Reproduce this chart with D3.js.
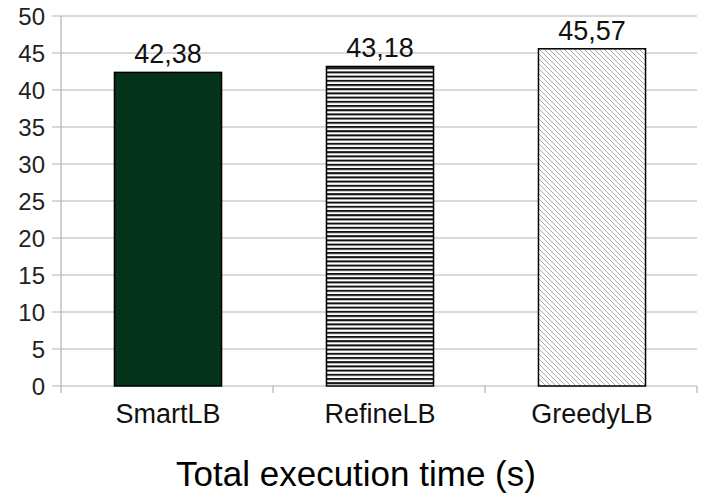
<!DOCTYPE html>
<html><head><meta charset="utf-8">
<script src="https://cdn.jsdelivr.net/npm/d3@7"></script>
<style>body{margin:0;background:#fff}svg{display:block}text{font-family:"Liberation Sans",Arial,sans-serif}</style>
</head><body>
<script>
const categories = ["SmartLB", "RefineLB", "GreedyLB"];
const values = [42.38, 43.18, 45.57];
const valueLabels = ["42,38", "43,18", "45,57"];
const yTicks = [0, 5, 10, 15, 20, 25, 30, 35, 40, 45, 50];
const title = "Total execution time (s)";

const W = 702, H = 500;
const m = {left: 61, right: 5, top: 16, bottom: 114};
const svg = d3.select("body").append("svg").attr("width", W).attr("height", H);
const defs = svg.append("defs");

// patterns
const p1 = defs.append("pattern").attr("id", "hstripe").attr("patternUnits", "userSpaceOnUse")
  .attr("width", 10).attr("height", 4.2);
p1.append("rect").attr("width", 10).attr("height", 4.2).attr("fill", "#fff");
p1.append("rect").attr("y", 0).attr("width", 10).attr("height", 2).attr("fill", "#111");

const p2 = defs.append("pattern").attr("id", "diag").attr("patternUnits", "userSpaceOnUse")
  .attr("width", 5).attr("height", 5);
p2.append("rect").attr("width", 5).attr("height", 5).attr("fill", "#fff");
p2.append("path").attr("d", "M0,0 L5,5 M-1,4 L1,6 M4,-1 L6,1").attr("stroke", "#aaa").attr("stroke-width", 1);

const fills = ["#05321b", "url(#hstripe)", "url(#diag)"];

const x = d3.scaleBand().domain(categories).range([m.left, W - m.right]).paddingInner(0).paddingOuter(0);
const y = d3.scaleLinear().domain([0, 50]).range([H - m.bottom, m.top]);

const grid = "#b3b3b3";
// gridlines + y ticks
svg.append("g").selectAll("line").data(yTicks).join("line")
  .attr("x1", m.left - 9).attr("x2", W - m.right)
  .attr("y1", d => y(d)).attr("y2", d => y(d))
  .attr("stroke", grid).attr("stroke-width", 1.2);
svg.append("g").selectAll("text").data(yTicks).join("text")
  .attr("x", m.left - 16).attr("y", d => y(d)).attr("dy", "0.36em")
  .attr("text-anchor", "end").attr("font-size", 24).attr("fill", "#222")
  .text(d => d);
// axes lines
svg.append("line").attr("x1", m.left).attr("x2", m.left).attr("y1", m.top).attr("y2", y(0) + 7)
  .attr("stroke", grid).attr("stroke-width", 1.2);
const bounds = categories.map(c => x(c) + x.bandwidth());
svg.append("g").selectAll("line").data(bounds).join("line")
  .attr("x1", d => d).attr("x2", d => d).attr("y1", y(0)).attr("y2", y(0) + 7)
  .attr("stroke", grid).attr("stroke-width", 1.2);

// bars
const bw = x.bandwidth() * 0.505;
svg.append("g").selectAll("rect").data(values).join("rect")
  .attr("x", (d, i) => x(categories[i]) + x.bandwidth() / 2 - bw / 2 + 1)
  .attr("y", d => y(d)).attr("width", bw).attr("height", d => y(0) - y(d))
  .attr("fill", (d, i) => fills[i]).attr("stroke", "#000").attr("stroke-width", 1.5);

// value labels
svg.append("g").selectAll("text").data(values).join("text")
  .attr("x", (d, i) => x(categories[i]) + x.bandwidth() / 2 + 1)
  .attr("y", d => y(d) - 9).attr("text-anchor", "middle")
  .attr("font-size", 27).attr("fill", "#111").text((d, i) => valueLabels[i]);

// category labels
svg.append("g").selectAll("text").data(categories).join("text")
  .attr("x", d => x(d) + x.bandwidth() / 2 + 1).attr("y", y(0) + 37)
  .attr("text-anchor", "middle").attr("font-size", 27).attr("fill", "#111").text(d => d);

svg.append("text").attr("x", 356).attr("y", 486).attr("text-anchor", "middle")
  .attr("font-size", 35).attr("fill", "#000").text(title);
</script>
</body></html>
